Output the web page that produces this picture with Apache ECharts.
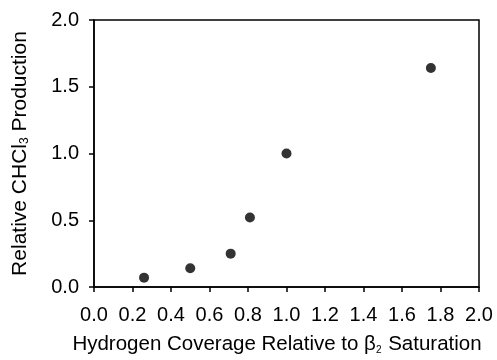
<!DOCTYPE html>
<html><head><meta charset="utf-8">
<script src="https://cdn.jsdelivr.net/npm/echarts@6/dist/echarts.min.js"></script>
<style>html,body{margin:0;padding:0;background:#fff}#c{width:497px;height:360px}</style>
</head><body><div id="c"></div>
<script>
const xValues = [0.26, 0.50, 0.71, 0.81, 1.00, 1.75];
const yValues = [0.07, 0.14, 0.25, 0.52, 1.00, 1.64];
const xTicks = ['0.0','0.2','0.4','0.6','0.8','1.0','1.2','1.4','1.6','1.8','2.0'];
const yTicks = ['0.0','0.5','1.0','1.5','2.0'];

const font = '"Liberation Sans", Arial, sans-serif';
const chart = echarts.init(document.getElementById('c'));
chart.setOption({
  animation: false,
  grid: { left: 94, right: 18, top: 20, bottom: 70, show: true, borderColor: '#000', borderWidth: 1.5, backgroundColor: 'transparent' },
  xAxis: {
    type: 'value', min: 0, max: 2, interval: 0.2,
    axisLine: { show: true, lineStyle: { color: '#000', width: 1.5 } },
    axisTick: { show: true, length: 5, lineStyle: { color: '#000', width: 1.5 } },
    splitLine: { show: false },
    axisLabel: { color: '#000', fontSize: 20, fontFamily: font, margin: 18,
      formatter: v => xTicks[Math.round(v / 0.2)] },
    name: '{a|Hydrogen Coverage Relative to β}{s|2}{a| Saturation}',
    nameLocation: 'middle', nameGap: 46,
    nameTextStyle: { padding: [0, 19, 0, 0], rich: {
      a: { fontSize: 20.5, fontFamily: font, color: '#000' },
      s: { fontSize: 10, fontFamily: font, color: '#000', verticalAlign: 'bottom', padding: [12, 1, 0, 0] }
    } }
  },
  yAxis: {
    type: 'value', min: 0, max: 2, interval: 0.5,
    axisLine: { show: true, lineStyle: { color: '#000', width: 1.5 } },
    axisTick: { show: true, length: 5, lineStyle: { color: '#000', width: 1.5 } },
    splitLine: { show: false },
    axisLabel: { color: '#000', fontSize: 20, fontFamily: font, margin: 15,
      formatter: v => yTicks[Math.round(v / 0.5)] },
    name: '{a|Relative CHCl}{s|3}{a| Production}',
    nameLocation: 'middle', nameGap: 63,
    nameTextStyle: { rich: {
      a: { fontSize: 21, fontFamily: font, color: '#000' },
      s: { fontSize: 12, fontFamily: font, color: '#000', verticalAlign: 'bottom', padding: [10, 0, 0, 0] }
    } }
  },
  series: [{
    type: 'scatter', symbol: 'circle', symbolSize: 10,
    itemStyle: { color: '#000' },
    data: xValues.map((x, i) => [x, yValues[i]])
  }]
});
</script></body></html>
